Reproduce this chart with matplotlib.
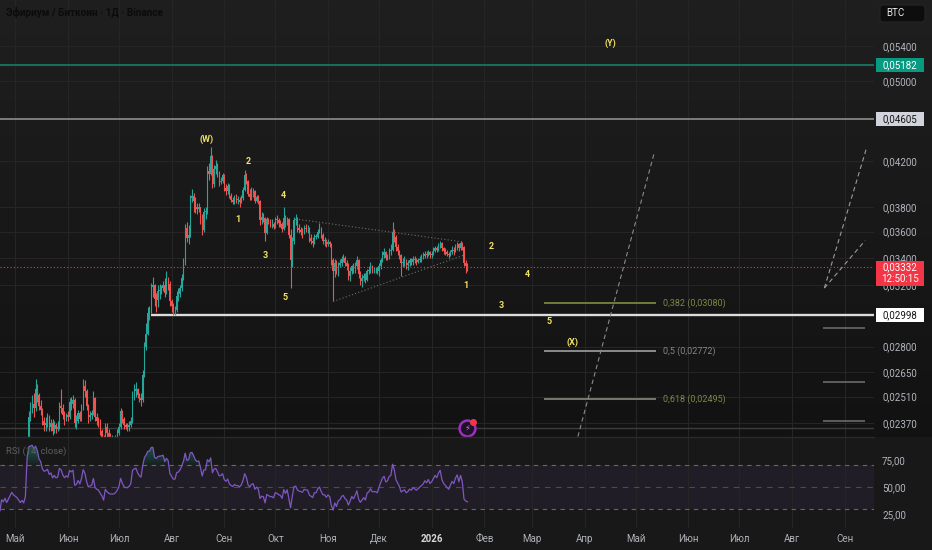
import matplotlib
matplotlib.use("Agg")
import matplotlib.pyplot as plt
import matplotlib.dates as mdates
from matplotlib.patches import Rectangle, FancyBboxPatch
from matplotlib.transforms import IdentityTransform, offset_copy
from matplotlib.ticker import NullLocator
import numpy as np
import pandas as pd

plt.rcParams['font.family'] = ['Roboto', 'DejaVu Sans']

# ETH/BTC daily candles as (close, high, low) in 1e-5 BTC; open = previous close
first_open = 1950
apr_25 = [(1960, 1980, 1930), (1950, 1980, 1930), (1970, 1990, 1940), (1940, 1980, 1920), (1930, 1960, 1910),
          (1950, 1970, 1920), (1920, 1960, 1900), (1930, 1950, 1900), (1910, 1950, 1890), (1940, 1960, 1900),
          (1930, 1960, 1910), (1920, 1950, 1900), (1910, 1940, 1890), (1930, 1950, 1900), (1920, 1940, 1900),
          (1900, 1930, 1890), (1910, 1930, 1890), (1920, 1940, 1900), (1900, 1930, 1890), (1890, 1910, 1870),
          (1880, 1910, 1860), (1870, 1900, 1850), (1900, 1920, 1860), (1890, 1910, 1870), (1900, 1920, 1870),
          (1880, 1910, 1870), (1890, 1900, 1870), (1900, 1920, 1880), (1910, 1930, 1890), (1900, 1930, 1880)]
may_25 = [(1895, 1920, 1870), (1890, 1910, 1870), (1880, 1900, 1860), (1870, 1890, 1850), (1875, 1890, 1850),
          (1865, 1890, 1850), (1880, 1900, 1850), (2110, 2140, 1870), (2400, 2430, 2100), (2440, 2480, 2380),
          (2470, 2520, 2420), (2450, 2530, 2400), (2550, 2610, 2430), (2520, 2580, 2480), (2460, 2530, 2440),
          (2440, 2490, 2410), (2380, 2450, 2360), (2360, 2400, 2330), (2370, 2400, 2330), (2390, 2420, 2350),
          (2350, 2410, 2330), (2370, 2390, 2330), (2330, 2390, 2310), (2360, 2380, 2320), (2340, 2370, 2320),
          (2350, 2380, 2330), (2460, 2480, 2340), (2450, 2550, 2420), (2410, 2470, 2390), (2390, 2430, 2360),
          (2410, 2420, 2380)]
jun_25 = [(2400, 2430, 2380), (2480, 2500, 2390), (2470, 2510, 2440), (2490, 2520, 2450), (2370, 2500, 2350),
          (2380, 2410, 2340), (2420, 2440, 2370), (2390, 2430, 2380), (2450, 2470, 2380), (2570, 2610, 2440),
          (2540, 2600, 2510), (2460, 2550, 2440), (2400, 2470, 2370), (2410, 2430, 2380), (2420, 2440, 2390),
          (2500, 2540, 2410), (2400, 2510, 2380), (2380, 2420, 2360), (2370, 2400, 2350), (2330, 2390, 2310),
          (2300, 2340, 2280), (2240, 2310, 2210), (2350, 2370, 2230), (2320, 2370, 2300), (2300, 2340, 2290),
          (2290, 2320, 2270), (2290, 2310, 2270), (2290, 2300, 2280), (2300, 2310, 2280), (2320, 2340, 2290)]
jul_25 = [(2350, 2370, 2310), (2430, 2450, 2340), (2390, 2440, 2370), (2360, 2400, 2340), (2350, 2370, 2340),
          (2350, 2370, 2330), (2360, 2380, 2330), (2380, 2400, 2350), (2520, 2540, 2370), (2540, 2580, 2490),
          (2550, 2590, 2510), (2520, 2560, 2500), (2500, 2530, 2480), (2490, 2530, 2460), (2630, 2660, 2480),
          (2800, 2830, 2620), (2880, 2950, 2780), (3010, 3050, 2870), (3020, 3060, 2970), (3190, 3220, 3010),
          (3200, 3260, 3120), (3110, 3210, 3060), (3100, 3150, 3020), (3160, 3200, 3050), (3170, 3210, 3110),
          (3180, 3200, 3140), (3200, 3230, 3160), (3150, 3250, 3120), (3230, 3300, 3140), (3210, 3260, 3170),
          (3090, 3230, 3060)]
aug_25 = [(3060, 3110, 3020), (3030, 3080, 3000), (3030, 3060, 3000), (3130, 3160, 3020), (3140, 3180, 3090),
          (3180, 3200, 3120), (3250, 3280, 3160), (3360, 3400, 3240), (3630, 3660, 3350), (3550, 3680, 3520),
          (3570, 3650, 3500), (3870, 3900, 3560), (3890, 3950, 3840), (3850, 3920, 3760), (3800, 3880, 3750),
          (3780, 3830, 3740), (3800, 3830, 3760), (3720, 3800, 3660), (3610, 3740, 3570), (3760, 3790, 3600),
          (3760, 3800, 3700), (4110, 4150, 3740), (4080, 4180, 4030), (4250, 4330, 4070), (3990, 4260, 3960),
          (4130, 4160, 3970), (4150, 4210, 4080), (4090, 4180, 4060), (4010, 4110, 3980), (4020, 4060, 3990),
          (4070, 4090, 4000)]
sep_25 = [(3960, 4080, 3930), (3930, 3990, 3900), (3980, 4000, 3910), (3890, 3990, 3870), (3860, 3920, 3840),
          (3840, 3880, 3820), (3880, 3900, 3820), (3860, 3910, 3830), (3860, 3890, 3820), (3840, 3880, 3800),
          (3870, 3900, 3830), (3940, 3970, 3860), (4070, 4120, 3930), (4020, 4090, 3990), (3910, 4030, 3890),
          (3880, 3950, 3860), (3920, 3970, 3860), (3930, 3960, 3880), (3850, 3940, 3830), (3880, 3900, 3840),
          (3850, 3900, 3820), (3690, 3860, 3650), (3720, 3760, 3660), (3710, 3750, 3680), (3590, 3720, 3530),
          (3700, 3720, 3580), (3680, 3710, 3660), (3660, 3700, 3640), (3660, 3700, 3630), (3640, 3680, 3620)]
oct_25 = [(3700, 3720, 3630), (3690, 3730, 3660), (3670, 3710, 3640), (3660, 3690, 3640), (3620, 3680, 3600),
          (3710, 3800, 3610), (3660, 3730, 3640), (3700, 3720, 3650), (3570, 3710, 3550), (3380, 3620, 3180),
          (3530, 3560, 3330), (3690, 3720, 3500), (3700, 3740, 3650), (3630, 3720, 3600), (3610, 3660, 3590),
          (3600, 3640, 3570), (3590, 3630, 3550), (3630, 3650, 3580), (3620, 3660, 3600), (3620, 3650, 3590),
          (3550, 3640, 3520), (3530, 3580, 3500), (3510, 3560, 3480), (3560, 3580, 3500), (3560, 3580, 3540),
          (3600, 3620, 3550), (3620, 3670, 3590), (3570, 3640, 3550), (3530, 3590, 3500), (3530, 3560, 3490),
          (3500, 3540, 3480)]
nov_25 = [(3520, 3540, 3490), (3500, 3530, 3480), (3380, 3510, 3350), (3300, 3400, 3090), (3360, 3390, 3260),
          (3300, 3380, 3280), (3350, 3370, 3270), (3360, 3390, 3330), (3390, 3410, 3340), (3400, 3430, 3370),
          (3360, 3410, 3340), (3340, 3380, 3310), (3270, 3360, 3240), (3300, 3330, 3230), (3340, 3350, 3280),
          (3310, 3360, 3290), (3340, 3370, 3290), (3380, 3410, 3320), (3280, 3390, 3250), (3230, 3300, 3200),
          (3250, 3280, 3190), (3270, 3290, 3230), (3240, 3290, 3220), (3300, 3320, 3230), (3310, 3340, 3280),
          (3340, 3370, 3290), (3310, 3350, 3290), (3310, 3330, 3290), (3310, 3330, 3290), (3300, 3330, 3280)]
dec_25 = [(3340, 3360, 3270), (3380, 3400, 3320), (3420, 3450, 3370), (3440, 3470, 3400), (3400, 3450, 3380),
          (3410, 3430, 3380), (3450, 3470, 3390), (3460, 3500, 3420), (3600, 3680, 3450), (3560, 3620, 3520),
          (3480, 3570, 3450), (3450, 3500, 3420), (3420, 3460, 3390), (3360, 3430, 3270), (3370, 3400, 3330),
          (3380, 3410, 3340), (3350, 3390, 3320), (3360, 3380, 3310), (3380, 3400, 3340), (3370, 3400, 3350),
          (3390, 3410, 3350), (3380, 3410, 3360), (3370, 3400, 3350), (3380, 3400, 3360), (3390, 3410, 3370),
          (3400, 3430, 3370), (3410, 3440, 3390), (3430, 3450, 3400), (3420, 3450, 3400), (3440, 3460, 3410),
          (3420, 3450, 3400)]
jan_26 = [(3430, 3450, 3400), (3450, 3480, 3420), (3470, 3490, 3440), (3460, 3490, 3440), (3490, 3510, 3450),
          (3510, 3530, 3470), (3470, 3520, 3450), (3450, 3480, 3430), (3440, 3470, 3420), (3430, 3460, 3410),
          (3420, 3440, 3400), (3440, 3460, 3410), (3460, 3490, 3430), (3450, 3480, 3420), (3480, 3500, 3440),
          (3500, 3520, 3460), (3470, 3510, 3450), (3510, 3530, 3460), (3480, 3520, 3460), (3360, 3490, 3340),
          (3340, 3380, 3290), (3332, 3360, 3300)]

price_ticks = [0.054, 0.050, 0.042, 0.038, 0.036, 0.034, 0.032, 0.028, 0.0265, 0.0251, 0.0237]
month_labels = ['Май', 'Июн', 'Июл', 'Авг', 'Сен', 'Окт', 'Ноя', 'Дек', '2026',
                'Фев', 'Мар', 'Апр', 'Май', 'Июн', 'Июл', 'Авг', 'Сен']
level_teal = 0.05182
level_gray = 0.04605
level_white = 0.02998
level_low = 0.02345
last_price = 0.03332
fib_levels = [0.03080, 0.02772, 0.02495]
fib_names = ['0,382', '0,5', '0,618']
right_fib = [0.02916, 0.02592, 0.02380]

wave_labels = [('2025-08-21 20:00', 0.04407, '(W)'), ('2025-09-15', 0.0420, '2'), ('2025-09-09', 0.03693, '1'),
               ('2025-10-05 12:00', 0.03891, '4'), ('2025-09-25', 0.03420, '3'), ('2025-10-06 16:00', 0.03114, '5'),
               ('2026-02-05', 0.03481, '2'), ('2026-01-21', 0.03203, '1'), ('2026-02-26', 0.03281, '4'),
               ('2026-02-11', 0.03060, '3'), ('2026-03-11', 0.02955, '5'), ('2026-03-25', 0.02829, '(X)'),
               ('2026-04-16', 0.05435, '(Y)')]

# hand drawn lines: (date, price) pairs
tri_upper = [('2025-10-13', 0.0370), ('2026-01-19', 0.0352)]
tri_lower = [('2025-11-04', 0.0309), ('2026-01-20', 0.0342)]
proj_1 = [('2026-03-28', 0.0230), ('2026-05-12', 0.0428)]
proj_2 = [('2026-08-20', 0.03182), ('2026-09-14', 0.04331)]
proj_3 = [('2026-08-20', 0.03182), ('2026-09-13', 0.0353)]

GREEN = '#26a69a'
RED = '#ef5350'
W, H = 932, 550

rows = apr_25 + may_25 + jun_25 + jul_25 + aug_25 + sep_25 + oct_25 + nov_25 + dec_25 + jan_26
dates = pd.date_range('2025-04-01', periods=len(rows), freq='D')
closes = np.array([r[0] for r in rows]) / 1e5
highs = np.array([r[1] for r in rows]) / 1e5
lows = np.array([r[2] for r in rows]) / 1e5
opens = np.concatenate([[first_open / 1e5], closes[:-1]])

# RSI 14 (Wilder)
delta = pd.Series(closes).diff()
avg_g = delta.clip(lower=0).ewm(alpha=1 / 14, adjust=False).mean()
avg_l = (-delta.clip(upper=0)).ewm(alpha=1 / 14, adjust=False).mean()
rsi = (100 - 100 / (1 + avg_g / avg_l)).to_numpy()

x = mdates.date2num(dates)
base = mdates.date2num(pd.Timestamp('2025-05-01'))
xlim = (base - 8.94, base + 505.2)


def dn(s):
    return mdates.date2num(pd.Timestamp(s))


fig = plt.figure(figsize=(W / 100, H / 100), dpi=100)

# background gradient
bg = fig.add_axes([0, 0, 1, 1], zorder=-10)
bg.axis('off')
col = np.zeros((H, 1, 3))
top_c = np.array([0x1f, 0x1f, 0x1f]) / 255
bot_c = np.array([0x12, 0x12, 0x12]) / 255
for i in range(H):
    if i < 437:
        col[i, 0] = top_c + (bot_c - top_c) * i / 437
    else:
        col[i, 0] = np.array([0x18, 0x18, 0x18]) / 255
bg.imshow(col, aspect='auto', extent=(0, 1, 0, 1))

ax = fig.add_axes([0, 113 / H, 874 / W, 437 / H])
ax_r = fig.add_axes([0, 22 / H, 874 / W, 91 / H], sharex=ax)
for a in (ax, ax_r):
    a.set_facecolor('none')
    for s in a.spines.values():
        s.set_visible(False)

# candles
up = closes >= opens
colors = np.where(up, GREEN, RED)
ax.vlines(x, lows, highs, colors=colors, lw=0.8, zorder=3)
ax.bar(x, np.maximum(np.abs(closes - opens), 0.00002), bottom=np.minimum(opens, closes),
       width=0.72, color=colors, lw=0, zorder=4)

ax.set_yscale('log')
ax.set_ylim(0.02298, 0.05971)
ax.set_xlim(*xlim)
ax.yaxis.tick_right()
ax.set_yticks(price_ticks)
ax.set_yticklabels([f'{t:.5f}'.replace('.', ',') for t in price_ticks])
ax.yaxis.set_minor_locator(NullLocator())
ax.tick_params(axis='y', length=0, pad=5.8, labelsize=7, colors='#b2b5be')

months = pd.date_range('2025-05-01', '2026-09-01', freq='MS')
ax.set_xticks(mdates.date2num(months))
ax.tick_params(axis='x', length=0, labelbottom=False)
ax.grid(True, color='#252525', lw=0.8, zorder=0)

# levels
ax.axhline(level_teal, color='#1c7565', lw=1.3, zorder=2)
ax.axhline(level_gray, color='#8e8e8e', lw=1.2, zorder=2)
ax.hlines(level_white, dn('2025-07-20'), xlim[1], color='#dcdcdc', lw=1.7, zorder=2)
ax.axhline(level_low, color='#3c3c3c', lw=1.0, zorder=2)
ax.axhline(last_price, color='#f23645', lw=0.8, ls=(0, (1, 2)), zorder=5)

# fib levels
fib_line_c = ['#727a3e', '#8c8c8c', '#77776a']
fib_text_c = ['#808646', '#858585', '#808646']
for lv, nm, lc, tc in zip(fib_levels, fib_names, fib_line_c, fib_text_c):
    ax.hlines(lv, dn('2026-03-08'), dn('2026-05-13'), color=lc, lw=1.4, zorder=2)
    ax.text(dn('2026-05-17'), lv, f'{nm} ({lv:.5f})'.replace('.', ','), color=tc, fontsize=6.5,
            ha='left', va='center', zorder=6)
for lv in right_fib:
    ax.hlines(lv, dn('2026-08-19'), dn('2026-09-13'), color='#6a6a6a', lw=1.2, zorder=2)

# drawings
for seg, ls, c in ((tri_upper, (0, (1, 2)), '#6e6e6e'), (tri_lower, (0, (1, 2)), '#6e6e6e'),
                   (proj_1, (0, (4, 3)), '#8a8a8a'), (proj_2, (0, (4, 3)), '#9a9a9a'),
                   (proj_3, (0, (4, 3)), '#9a9a9a')):
    ax.plot([dn(d) for d, _ in seg], [p for _, p in seg], ls=ls, color=c, lw=0.8, zorder=5)

for d, p, s in wave_labels:
    ax.text(dn(d), p, s, color='#f2e260', fontsize=6.5, fontweight='bold', ha='center', va='center', zorder=7)

# alert icon
ix, iy = dn('2026-01-22'), level_low
ax.scatter([ix], [iy], s=130, facecolor='#1f1226', edgecolor='#9c2fc0', lw=1.8, zorder=8, clip_on=False)
ax.text(ix, iy, '⚡', color='#c77ae6', fontsize=6, ha='center', va='center', zorder=9, clip_on=False)
ax.scatter([ix], [iy], s=16, color='#f23645', zorder=10, clip_on=False,
           transform=offset_copy(ax.transData, fig, x=6, y=6, units='dots'))

# RSI pane
ax_r.set_ylim(12, 96.3)
ax_r.axhspan(30, 70, color='#7e57c2', alpha=0.09, lw=0, zorder=1)
for lv, dash, al in ((70, (0, (4, 4)), 0.8), (50, (0, (5, 5)), 0.5), (30, (0, (4, 4)), 0.8)):
    ax_r.axhline(lv, color='#787b86', lw=0.8, ls=dash, alpha=al, zorder=2)
# overbought gradient: stacked thin layers, more opaque higher up
for t in np.arange(70, 96, 2.5):
    ax_r.fill_between(x, t, rsi, where=rsi > t, interpolate=True, color='#26a69a', alpha=0.07, lw=0, zorder=2)
ax_r.plot(x, rsi, color='#7e57c2', lw=0.9, zorder=3)
ax_r.yaxis.tick_right()
ax_r.set_yticks([25, 50, 75])
ax_r.set_yticklabels(['25,00', '50,00', '75,00'])
ax_r.tick_params(axis='y', length=0, pad=5.8, labelsize=7, colors='#b2b5be')
ax_r.set_xticks(mdates.date2num(months))
ax_r.set_xticklabels(month_labels)
ax_r.tick_params(axis='x', length=0, pad=4, labelsize=7, colors='#aeb1b8')
for lbl in ax_r.get_xticklabels():
    if lbl.get_text() == '2026':
        lbl.set_fontweight('bold')
        lbl.set_color('#d8d8d8')
ax_r.grid(True, axis='x', color='#252525', lw=0.8, zorder=0)
ax_r.set_xlim(*xlim)

# pane separator
fig.add_artist(plt.Line2D([0, 874], [H - 437, H - 437], transform=IdentityTransform(), color='#2a2a2a', lw=1))

# texts
ident = IdentityTransform()
fig.text(6, H - 13, 'Эфириум / Биткоин · 1Д · Binance', transform=ident, color='#0b0b0b',
         fontsize=7.2, fontweight='bold', va='center', ha='left')
fig.text(6, H - 451, 'RSI (14, close)', transform=ident, color='#5e5e5e', fontsize=6.8, va='center')

fig.add_artist(FancyBboxPatch((881, H - 21), 43, 15, boxstyle='round,pad=1,rounding_size=3',
                              transform=ident, facecolor='#0d0d0d', edgecolor='#262626', lw=0.8))
fig.text(886, H - 13.5, 'BTC', transform=ident, color='#e8e8e8', fontsize=7, va='center', ha='left')


def tag(price, text, face, tc, sub=None):
    yd = ax.transData.transform((xlim[0], price))[1]
    if sub is None:
        fig.add_artist(Rectangle((876, yd - 7), 48, 14, transform=ident, facecolor=face, lw=0, zorder=5))
        fig.text(900, yd, text, transform=ident, color=tc, fontsize=7, ha='center', va='center', zorder=6)
    else:
        fig.add_artist(Rectangle((876, yd - 19), 48, 25, transform=ident, facecolor=face, lw=0, zorder=5))
        fig.text(900, yd, text, transform=ident, color=tc, fontsize=7, ha='center', va='center', zorder=6)
        fig.text(900, yd - 12.5, sub, transform=ident, color=tc, fontsize=7, ha='center', va='center', zorder=6)


tag(level_teal, '0,05182', '#089981', 'white')
tag(level_gray, '0,04605', '#d1d4dc', '#131313')
tag(level_white, '0,02998', '#ffffff', '#131313')
tag(last_price, '0,03332', '#f23645', 'white', sub='12:50:15')

fig.savefig('out.png', dpi=100)
